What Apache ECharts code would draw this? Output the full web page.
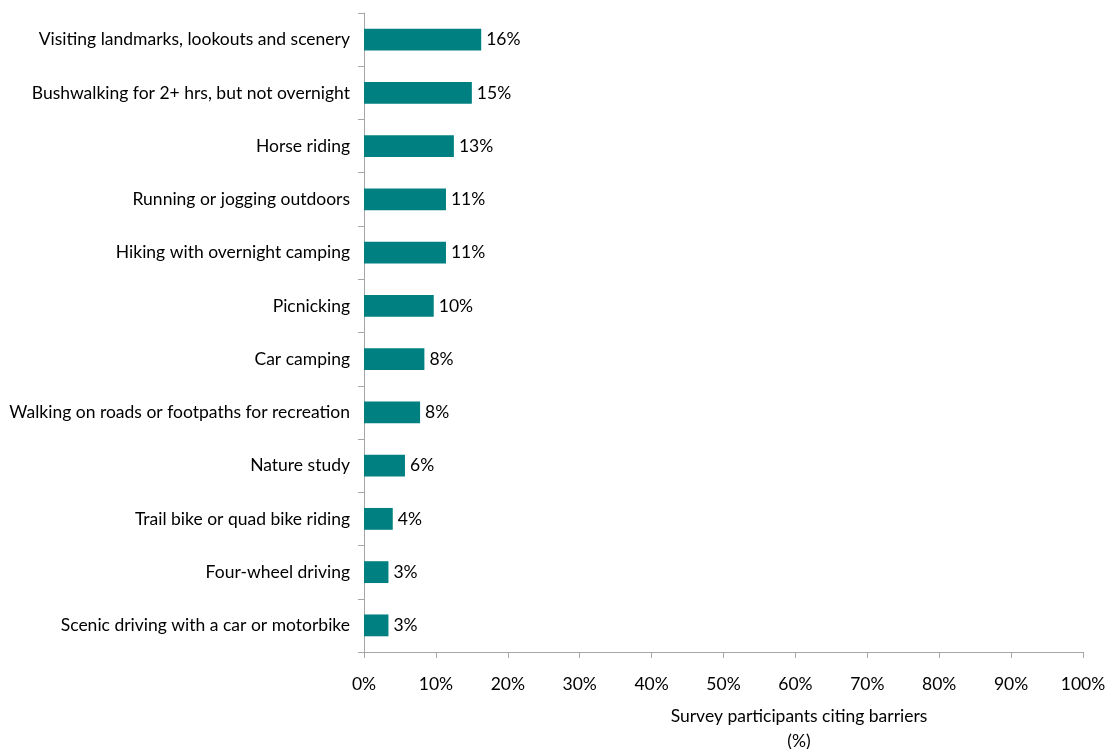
<!DOCTYPE html>
<html>
<head>
<meta charset="utf-8">
<script src="https://cdn.jsdelivr.net/npm/echarts@6/dist/echarts.min.js"></script>
<style>
  html, body { margin: 0; padding: 0; background: #fff; }
  #chart { width: 1112px; height: 749px; }
</style>
</head>
<body>
<div id="chart"></div>
<script>
// Activities, listed bottom-to-top as the category axis draws them
const activities = [
  'Scenic driving with a car or motorbike',
  'Four-wheel driving',
  'Trail bike or quad bike riding',
  'Nature study',
  'Walking on roads or footpaths for recreation',
  'Car camping',
  'Picnicking',
  'Hiking with overnight camping',
  'Running or jogging outdoors',
  'Horse riding',
  'Bushwalking for 2+ hrs, but not overnight',
  'Visiting landmarks, lookouts and scenery'
];

// Share of survey participants citing barriers (%)
const shares = [3.4, 3.4, 4.0, 5.7, 7.8, 8.4, 9.7, 11.4, 11.4, 12.5, 15.0, 16.3];

// Value axis ticks (%)
const xMin = 0;
const xMax = 100;
const xStep = 10;

const axisTitle = 'Survey participants citing barriers';
const axisUnit = '(%)';

const FONT = 'Lato, "Open Sans", sans-serif';
const FS = 17.5;
const axisGrey = '#a6a6a6';

const chart = echarts.init(document.getElementById('chart'));
chart.setOption({
  animation: false,
  grid: { left: 364, right: 29, top: 13, bottom: 97, containLabel: false },
  xAxis: {
    type: 'value',
    min: xMin,
    max: xMax,
    interval: xStep,
    axisLine: { show: true, lineStyle: { color: axisGrey, width: 1 } },
    axisTick: { show: true, length: 6, lineStyle: { color: axisGrey } },
    splitLine: { show: false },
    axisLabel: {
      formatter: v => v + '%',
      color: '#000',
      fontFamily: FONT,
      fontSize: FS,
      margin: 23
    }
  },
  yAxis: {
    type: 'category',
    data: activities,
    axisLine: { show: true, lineStyle: { color: axisGrey, width: 1 } },
    axisTick: { show: true, length: 6, lineStyle: { color: axisGrey } },
    axisLabel: {
      color: '#000',
      fontFamily: FONT,
      fontSize: FS,
      margin: 14
    }
  },
  series: [{
    type: 'bar',
    data: shares,
    barWidth: '41%',
    itemStyle: { color: '#008080' },
    label: {
      show: true,
      position: 'right',
      distance: 5,
      formatter: p => Math.round(p.value) + '%',
      color: '#000',
      fontFamily: FONT,
      fontSize: FS
    }
  }],
  graphic: [
    {
      type: 'text',
      x: 799,
      y: 704,
      style: {
        text: axisTitle + '\n' + axisUnit,
        fill: '#000',
        font: FS + 'px ' + FONT,
        textAlign: 'center',
        lineHeight: 25
      }
    }
  ]
});
</script>
</body>
</html>
